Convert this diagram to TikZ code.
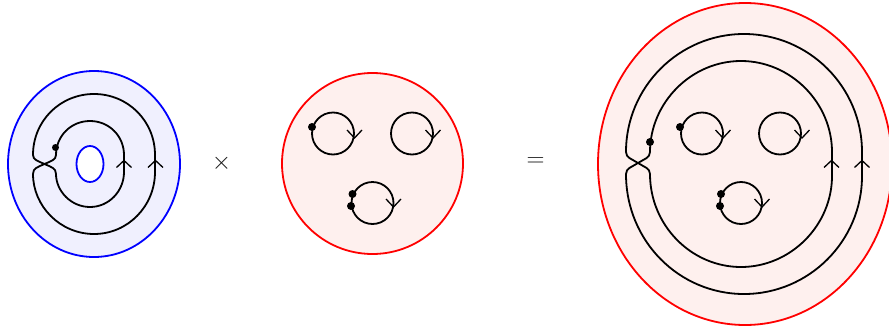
\documentclass[tikz,border=0pt]{standalone}
\definecolor{paleblue}{RGB}{240,240,254}
\definecolor{palered}{RGB}{254,240,238}
\definecolor{opcolor}{RGB}{25,25,25}
\tikzset{
  strand/.style={draw=black,line width=1.8pt,line join=round},
  tick/.style={draw=black,line width=1.3pt},
  spot/.style={fill=black,circle,inner sep=0pt,minimum size=8pt},
  bluerim/.style={draw=blue,line width=1.8pt},
  redrim/.style={draw=red,line width=1.8pt,fill=palered},
  op/.style={text=opcolor,inner sep=0pt,font=\fontsize{24}{24}\selectfont}
}
\newcommand{\downtick}[3]{\draw[tick] (#1-#3,#2-8) -- (#1,#2) -- (#1+#3,#2-8);}
\newcommand{\uptick}[3]{\draw[tick] (#1-#3,#2+7) -- (#1,#2) -- (#1+#3,#2+7);}
\begin{document}
\begin{tikzpicture}[x=1pt,y=-1pt]
\useasboundingbox (0,0) rectangle (889,327);
% left piece
\fill[paleblue,even odd rule] (94,164) ellipse [x radius=86,y radius=93] (90,164) ellipse [x radius=13.5,y radius=18];
\draw[bluerim] (94,164) ellipse [x radius=86,y radius=93];
\draw[bluerim] (90,164) ellipse [x radius=13.5,y radius=18];
\draw[strand] (33,155) .. controls (33,121) and (60,94) .. (94,94) .. controls (128,94) and (155,121) .. (155,155) -- (155,172) .. controls (155,206) and (128,234) .. (94,234) .. controls (60,234) and (33,206) .. (33,174) .. controls (33,168) and (38,167) .. (44.5,164) .. controls (51,161) and (56,160) .. (56,155) .. controls (56,136) and (71,121) .. (90,121) .. controls (109,121) and (124,136) .. (124,155) -- (124,172) .. controls (124,191) and (109,207) .. (90,207) .. controls (71,207) and (56,191) .. (56,174) .. controls (56,168) and (51,167) .. (44.5,164) .. controls (38,161) and (33,160) .. cycle;
\node[spot,minimum size=7pt] (d1) at (55.5,147.5) {};
\uptick{124}{160.5}{7.5}
\uptick{155.5}{160.5}{7.5}
\node[op] (times) at (221.5,163.5) {$\times$};
% middle piece
\draw[redrim] (372.5,163.5) circle [radius=90.5];
\draw[strand] (333,133.5) circle [radius=21];
\draw[strand] (412,133.5) circle [radius=21];
\draw[strand] (372.5,203) circle [radius=21];
\node[spot] (d2) at (312,127) {};
\node[spot] (d3) at (352.5,194) {};
\node[spot] (d4) at (351,206) {};
\downtick{354.5}{138}{7.5}
\downtick{433}{138}{7.5}
\downtick{393.5}{207}{7.5}
\node[op] (equals) at (535.5,162.5) {$=$};
% right piece
\draw[redrim] (745,164) ellipse [x radius=147,y radius=161];
\draw[strand] (626,152) .. controls (626,87) and (679,34) .. (744,34) .. controls (809,34) and (862,87) .. (862,152) -- (862,176) .. controls (862,241) and (809,294) .. (744,294) .. controls (679,294) and (626,241) .. (626,174) .. controls (626,168) and (632,167) .. (638,163) .. controls (644,159) and (650,158) .. (650,152) .. controls (650,103) and (691,61) .. (741,61) .. controls (791,61) and (832,103) .. (832,152) -- (832,176) .. controls (832,225) and (791,267) .. (741,267) .. controls (691,267) and (650,225) .. (650,174) .. controls (650,168) and (644,167) .. (638,163) .. controls (632,159) and (626,158) .. cycle;
\node[spot] (d5) at (650,142) {};
\draw[strand] (702,133.5) circle [radius=21];
\draw[strand] (780,133.5) circle [radius=21];
\draw[strand] (741,203) circle [radius=21];
\node[spot] (d6) at (680,127) {};
\node[spot] (d7) at (721,194) {};
\node[spot] (d8) at (720,206) {};
\downtick{723}{138}{7.5}
\downtick{802}{138}{7.5}
\downtick{762}{207}{7.5}
\uptick{831.5}{160.5}{7.5}
\uptick{862}{160.5}{7.5}
\end{tikzpicture}
\end{document}
